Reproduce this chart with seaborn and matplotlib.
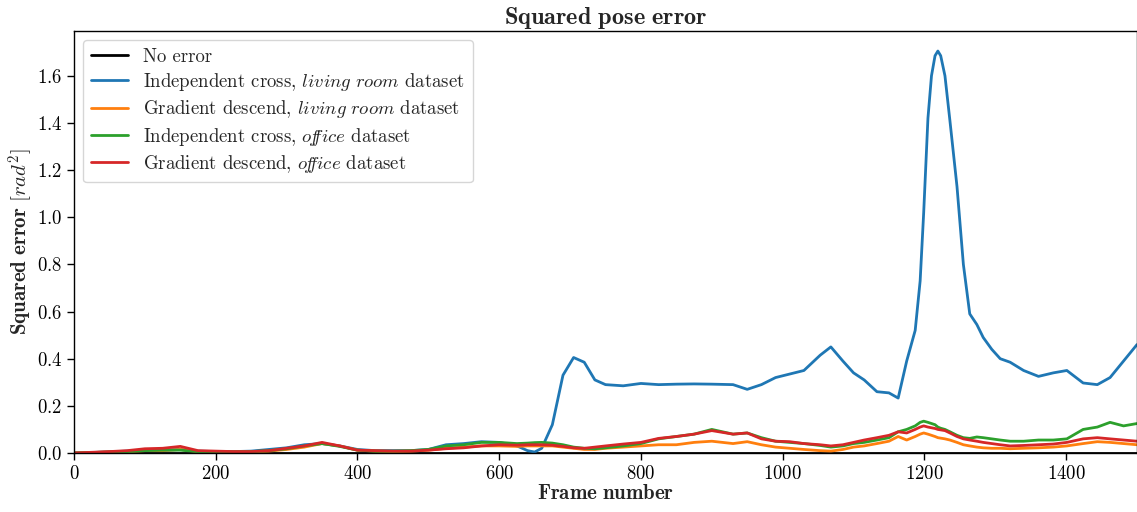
import numpy as np
import pandas as pd
import matplotlib
matplotlib.use("Agg")
import matplotlib.pyplot as plt
import seaborn as sns

frames = [0, 25, 50, 75, 100, 125, 150, 175, 200, 225, 250, 275, 300, 325, 350, 375, 400, 425, 450, 475,
          500, 525, 550, 575, 600, 625, 640, 650, 660, 675, 690, 705, 720, 735, 750, 775, 800, 825, 850, 875,
          900, 930, 950, 970, 990, 1010, 1030, 1053, 1068, 1085, 1100, 1115, 1133, 1150, 1163, 1175, 1187, 1194,
          1199, 1205, 1210, 1215, 1219, 1223, 1229, 1236, 1246, 1255, 1264, 1274, 1283, 1295, 1307, 1321, 1340,
          1361, 1382, 1401, 1424, 1444, 1462, 1481, 1500]

indep_living = [0.0, 0.002, 0.005, 0.008, 0.012, 0.012, 0.015, 0.008, 0.006, 0.006, 0.008, 0.015, 0.022, 0.035,
                0.04, 0.03, 0.015, 0.01, 0.01, 0.01, 0.015, 0.035, 0.04, 0.048, 0.045, 0.03, 0.01, 0.004, 0.02,
                0.12, 0.33, 0.405, 0.385, 0.31, 0.29, 0.285, 0.295, 0.29, 0.292, 0.293, 0.292, 0.29, 0.27, 0.29,
                0.32, 0.335, 0.35, 0.415, 0.45, 0.39, 0.34, 0.31, 0.26, 0.255, 0.233, 0.39, 0.52, 0.73, 1.02,
                1.42, 1.6, 1.685, 1.705, 1.685, 1.60, 1.41, 1.13, 0.80, 0.59, 0.545, 0.49, 0.44, 0.40, 0.385,
                0.35, 0.325, 0.34, 0.35, 0.297, 0.29, 0.32, 0.39, 0.46]

grad_living = [0.0, 0.002, 0.004, 0.006, 0.01, 0.01, 0.015, 0.006, 0.005, 0.004, 0.005, 0.008, 0.015, 0.025,
               0.04, 0.03, 0.012, 0.008, 0.006, 0.008, 0.012, 0.02, 0.025, 0.03, 0.03, 0.028, 0.03, 0.03, 0.03,
               0.03, 0.025, 0.02, 0.015, 0.015, 0.02, 0.025, 0.03, 0.035, 0.035, 0.045, 0.05, 0.04, 0.048, 0.035,
               0.025, 0.02, 0.015, 0.01, 0.008, 0.015, 0.025, 0.03, 0.04, 0.05, 0.07, 0.055, 0.07, 0.08, 0.085,
               0.08, 0.075, 0.07, 0.065, 0.063, 0.06, 0.055, 0.045, 0.035, 0.03, 0.025, 0.022, 0.02, 0.02, 0.018,
               0.02, 0.022, 0.025, 0.03, 0.04, 0.048, 0.045, 0.04, 0.035]

indep_office = [0.0, 0.002, 0.004, 0.006, 0.01, 0.012, 0.012, 0.006, 0.005, 0.005, 0.006, 0.01, 0.018, 0.03,
                0.04, 0.028, 0.012, 0.008, 0.008, 0.01, 0.015, 0.03, 0.035, 0.045, 0.045, 0.04, 0.042, 0.044,
                0.045, 0.042, 0.035, 0.025, 0.02, 0.018, 0.022, 0.03, 0.04, 0.06, 0.07, 0.08, 0.1, 0.08, 0.085,
                0.065, 0.05, 0.045, 0.04, 0.032, 0.025, 0.03, 0.04, 0.045, 0.055, 0.065, 0.09, 0.1, 0.115, 0.13,
                0.135, 0.13, 0.125, 0.12, 0.11, 0.105, 0.1, 0.09, 0.075, 0.065, 0.062, 0.068, 0.065, 0.06, 0.055,
                0.05, 0.05, 0.055, 0.055, 0.06, 0.1, 0.11, 0.13, 0.115, 0.125]

grad_office = [0.0, 0.003, 0.006, 0.01, 0.018, 0.02, 0.028, 0.01, 0.008, 0.006, 0.006, 0.01, 0.02, 0.03,
               0.045, 0.03, 0.012, 0.01, 0.008, 0.008, 0.012, 0.018, 0.022, 0.03, 0.035, 0.033, 0.035, 0.035,
               0.035, 0.033, 0.028, 0.022, 0.02, 0.025, 0.03, 0.038, 0.045, 0.062, 0.07, 0.08, 0.095, 0.08,
               0.085, 0.06, 0.05, 0.048, 0.04, 0.035, 0.03, 0.035, 0.045, 0.055, 0.065, 0.075, 0.09, 0.085, 0.1,
               0.11, 0.115, 0.11, 0.107, 0.104, 0.1, 0.098, 0.095, 0.085, 0.07, 0.06, 0.055, 0.05, 0.045, 0.04,
               0.035, 0.03, 0.032, 0.035, 0.038, 0.045, 0.06, 0.065, 0.06, 0.055, 0.05]

labels = ["No error",
          r"Independent cross, $\mathit{living\ room}$ dataset",
          r"Gradient descend, $\mathit{living\ room}$ dataset",
          r"Independent cross, $\mathit{o\!f\!\!fice}$ dataset",
          r"Gradient descend, $\mathit{o\!f\!\!fice}$ dataset"]

sns.set_style("ticks")
plt.rcParams.update({
    "font.family": "serif",
    "font.serif": ["cmr10"],
    "mathtext.fontset": "cm",
    "axes.formatter.use_mathtext": True,
    "axes.unicode_minus": False,
    "font.size": 13.5,
    "axes.edgecolor": "black",
    "xtick.color": "black",
    "ytick.color": "black",
    "axes.linewidth": 1.0,
})

palette = sns.color_palette("tab10")
fig = plt.figure(figsize=(11.37, 5.12), dpi=100)
ax = fig.add_axes([74 / 1137, 59 / 512, 1 - 74 / 1137, (453 - 31) / 512])

fr = np.array(frames)
series = [np.zeros(len(fr)), indep_living, grad_living, indep_office, grad_office]
colors = ["black", palette[0], palette[1], palette[2], palette[3]]
for vals, lab, col in zip(series, labels, colors):
    sns.lineplot(x=fr, y=np.array(vals), ax=ax, color=col, label=lab, linewidth=2)

ax.set_xlim(0, 1500)
ax.set_ylim(0, 1.79)
ax.set_yticks(np.arange(0, 1.61, 0.2))
ax.set_xticks(np.arange(0, 1401, 200))
ax.tick_params(labelsize=13.5, length=5, width=1)
ax.set_title(r"$\mathbf{Squared\ pose\ error}$", fontsize=17.5, pad=4)
ax.set_xlabel(r"$\mathbf{Frame\ number}$", fontsize=15, labelpad=1)
ax.set_ylabel(r"$\mathbf{Squared\ error}\ [rad^2]$", fontsize=15, labelpad=1)
ax.legend(loc="upper left", fontsize=13.5, frameon=True, framealpha=0.8, fancybox=True,
          edgecolor="0.8", labelspacing=0.28, borderaxespad=0.5)
sns.despine(ax=ax, top=False, right=False)

fig.savefig("out.png", dpi=100)
